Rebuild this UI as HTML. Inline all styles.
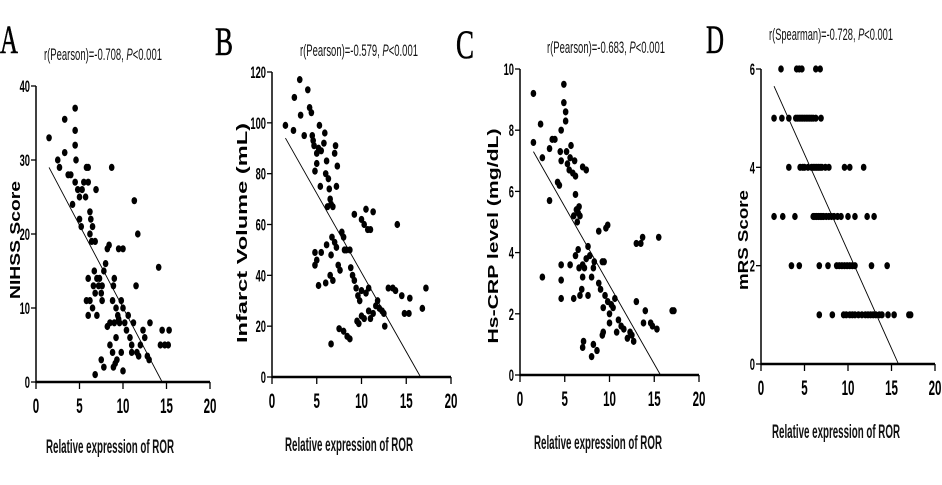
<!DOCTYPE html>
<html><head><meta charset="utf-8"><style>
html,body{margin:0;padding:0;background:#fff;}
svg{display:block;font-family:"Liberation Sans",sans-serif;}
</style></head><body>
<svg id="fig" width="942" height="485" viewBox="0 0 942 485" xmlns="http://www.w3.org/2000/svg"></svg>
<script>
// Panel A: NIHSS
const aX=[1.5,2.5,2.7,3.3,3.3,3.7,4.0,4.2,4.5,4.5,4.5,4.6,4.5,4.8,5,5,5.2,5.3,5.5,5.7,5.8,6,6,6.2,6.3,6.2,6.4,6.5,6.8,6.9,5.8,6,6,6.2,6.5,6.7,6.8,7,7,7.2,7.5,7.6,7.8,8,8.2,8.4,8.7,8.8,8.9,9.0,8.5,8.5,8.8,9,9.2,9.2,9.4,9.5,9.6,9.8,10,10,10.2,10.4,10.6,10.8,11,11,11.2,11.3,11.5,11.7,11.6,11.8,12,12.3,12.5,12.8,13,13.1,14.1,14.3,14.5,14.8,15.3,15.2,7.5,7.8,6.8,8.9,9.1,9.3,9.8,10,8.2,9.5,7.3,7.6,6.6];
const aY=[33,30,29,35.5,31,28,28,24,37,34,32,30,27,26,25,22,21,26,27,25,29,29,27,23,22,20,19,21,19,26,11,14,9,11,10,15,12,14,9,13,12,11,15,16,18,18.5,29,11,13,14,8,5,4,8,6,10,9,18,8,11,10,18,8,7,9,6,5,4,8,24.5,13,20,4,3.5,5,7,6,3.5,3,8,15.5,5,7,5,7,5,3,2,1,2,2.5,3,4,1.5,7.5,8.5,14,13,13];
const aFit=[[1.5,29],[14.5,0]];
// Panel B: infarct volume
const bX=[1.5,2.4,2.5,3.1,3.2,3.6,4,4.2,4.4,4.5,4.6,4.7,4.8,5,5,5.2,5.3,5.5,5.8,5.9,6,6.1,6.3,6.4,6.5,6.2,6.6,6.8,7,7.1,7.2,7.3,5.4,4.8,4.8,5,5.2,5.5,6,6.1,6.5,6.8,6.6,6.7,7,7.2,7.4,7.6,7.8,8,8.1,8.3,8.7,8.8,9,9.2,9.2,9.4,9.6,9.8,10,10,10.3,10.5,10.7,11,11.3,10.5,10.8,9.5,9.7,10,10.3,10.8,11,11.3,11.6,11.8,12,12.3,12.5,12.6,13,13.5,13.8,14,14.5,14.8,15.3,15.4,16.8,17.2,6.6,7.5,8,8.4,8.7];
const bY=[99,97,110,117,103,95,113,106,104,95,93,91,81,88,84,90,99,89,92,96,80,85,78,74,70,67,68,67,88,91,75,83,75,49,44,46,36,49,37,52,40,38,48,55,53,51,44,42,57,55,50,50,50,43,40,38,64,35,32,30,34,62,60,66,58,58,65,33,35,22,21,24,23,26,23,25,28,30,27,26,25,20,35,35,34,60,32,25,25,31,27,35,13,19,18,16,15];
const bFit=[[1.5,94],[16.6,0]];
// Panel C: hs-CRP
const cX=[1.5,1.5,2.3,2.5,2.5,3.3,3.3,3.6,3.9,4.2,4.4,4.5,4.6,4.6,4.6,4.6,4.6,4.9,4.9,5.1,5.1,5.2,5.3,5.5,5.6,5.7,5.9,6.0,6.1,6.2,6.2,6.3,6.4,6.5,6.6,6.7,7.0,7.4,5.6,6,6.2,6.5,6.6,6.7,6.9,7,7.0,7.2,7.4,7.6,7.6,7.8,8,8.2,8.3,8.8,8.8,9,9.2,9.4,9.3,9.5,9.6,9.8,9.8,10,10,10.2,10.4,10.6,10.8,11,11.3,11.6,12,12.3,12.5,12.7,13,13,13.5,13.7,13.8,14,14.6,14.8,15.3,15.5,17,17.2,7,7.1,8,8.2,8.6,9.2,9.3];
const cY=[9.2,7.6,8.2,7.1,3.2,7.4,5.7,7.7,7.7,6.3,6.2,7.3,8,7,3.6,3.1,2.5,9.5,8.9,8.6,8.3,7.3,6.9,6.7,7.1,7.5,6.6,5.2,7,6.5,5.9,5.4,5,5.3,5.5,5.2,6.8,6.7,3.6,2.5,3.9,4.1,3.5,2.6,2.8,3.2,3.6,3.5,3.8,4.2,2.6,3.9,3.2,3.5,3.7,4.7,3,2.8,3.7,3.7,2.2,2.6,4.8,4.9,2.4,2,1.7,2.3,2.2,2.5,1.4,1.8,1.6,1.5,1.2,1.4,1.3,1.1,2.4,4.3,4.3,4.5,1.7,2.1,1.7,1.6,1.5,4.5,2.1,2.1,0.9,1.1,0.6,1,0.8,1.3,1.4];
const cFit=[[1.5,7.3],[15.7,0]];
// Panel D: mRS
const dX=[2.3,4.1,4.4,4.7,6.3,6.8, 1.5,2.4,3.2,4.0,4.2,4.4,4.6,4.8,5.0,5.2,5.4,5.6,5.8,6.0,6.3,6.9, 3.2,4.5,4.8,5.0,5.4,5.8,6.0,6.2,6.4,6.6,6.8,7.0,7.4,7.8,9.6,10.2,11.8, 1.5,2.5,3.9,6.0,6.2,6.4,6.6,6.8,7.0,7.2,7.5,7.8,8.1,8.4,8.8,9.2,10.0,10.8,12.2,13.0, 3.5,4.4,6.7,7.7,8.7,9.0,9.3,9.6,9.9,10.2,10.5,10.8,12.7,14.5, 6.7,8.2,9.5,9.8,10.2,10.5,10.8,11.2,11.6,12.0,12.3,12.6,12.9,13.2,13.6,13.9,14.6,15.3,17.0,17.2];
const dY=[6,6,6,6,6,6, 5,5,5,5,5,5,5,5,5,5,5,5,5,5,5,5, 4,4,4,4,4,4,4,4,4,4,4,4,4,4,4,4,4, 3,3,3,3,3,3,3,3,3,3,3,3,3,3,3,3,3,3,3,3, 2,2,2,2,2,2,2,2,2,2,2,2,2,2, 1,1,1,1,1,1,1,1,1,1,1,1,1,1,1,1,1,1,1,1];
const dFit=[[1.5,5.65],[15.8,0]];
const xTicks=[0,5,10,15,20];
const aYTicks=[0,10,20,30,40];
const bYTicks=[0,20,40,60,80,100,120];
const cYTicks=[0,2,4,6,8,10];
const dYTicks=[0,2,4,6];

const NS="http://www.w3.org/2000/svg";
const svg=document.getElementById('fig');
function mk(tag,attrs,parent){const e=document.createElementNS(NS,tag);for(const k in attrs)e.setAttribute(k,attrs[k]);(parent||svg).appendChild(e);return e;}

const panels=[
 {id:'a',L:'A',lx:0,ly:53,x0:36,x1:210,y0:382,y1:86,ymax:40,yt:aYTicks,xs:aX,ys:aY,fit:aFit,title:'r(Pearson)=-0.708, ',tx:44,ty:60,tw:118,yl:'NIHSS Score',ylx:15,yly:240,ylw:118,xlx:110,xly:453},
 {id:'b',L:'B',lx:215,ly:55,x0:272,x1:451,y0:377,y1:72,ymax:120,yt:bYTicks,xs:bX,ys:bY,fit:bFit,title:'r(Pearson)=-0.579, ',tx:300,ty:56,tw:118,yl:'Infarct Volume (mL)',ylx:242,yly:233,ylw:220,xlx:349,xly:451},
 {id:'c',L:'C',lx:456,ly:58,x0:520,x1:699,y0:375,y1:69,ymax:10,yt:cYTicks,xs:cX,ys:cY,fit:cFit,title:'r(Pearson)=-0.683, ',tx:547,ty:53,tw:118,yl:'Hs-CRP level (mg/dL)',ylx:493,yly:236,ylw:215,xlx:598,xly:449},
 {id:'d',L:'D',lx:706,ly:53,x0:761,x1:935,y0:364,y1:69,ymax:6,yt:dYTicks,xs:dX,ys:dY,fit:dFit,title:'r(Spearman)=-0.728, ',tx:769,ty:40,tw:124,yl:'mRS Score',ylx:743,yly:240,ylw:100,xlx:836,xly:438}
];

panels.forEach(p=>{
 const g=mk('g',{});
 
 
 const sx=v=>p.x0+(p.x1-p.x0)*v/20;
 const sy=v=>p.y0-(p.y0-p.y1)*v/p.ymax;
 const letter=mk('text',{x:p.lx,y:p.ly,'font-family':'Liberation Serif, serif','font-size':40,textLength:18,lengthAdjust:'spacingAndGlyphs',stroke:'#000','stroke-width':0.6},g);
 letter.textContent=p.L;
 
 
 const t=mk('text',{x:p.tx,y:p.ty,'font-size':17,textLength:p.tw,lengthAdjust:'spacingAndGlyphs',fill:'#111'},g);
 
 
 t.appendChild(document.createTextNode(p.title));
 const it=mk('tspan',{'font-style':'italic'},t);it.textContent='P';
 t.appendChild(document.createTextNode('<0.001'));
 const xa=mk('line',{x1:p.x0,y1:p.y0,x2:p.x1,y2:p.y0,stroke:'#000','stroke-width':2.5},g);
 
 
 const ya=mk('line',{x1:p.x0,y1:p.y0+1,x2:p.x0,y2:p.y1,stroke:'#000','stroke-width':1.5},g);
 
 
 xTicks.forEach(v=>{
  mk('line',{x1:sx(v),y1:p.y0,x2:sx(v),y2:p.y0+7,stroke:'#000','stroke-width':1.3},g);
  const tl=mk('text',{x:sx(v),y:p.y0+31,'font-size':21,'font-weight':'bold','text-anchor':'middle',transform:`translate(${sx(v)},0) scale(0.55,1) translate(${-sx(v)},0)`},g);
  tl.textContent=v;
  
  
 });
 p.yt.forEach(v=>{
  mk('line',{x1:p.x0-5,y1:sy(v),x2:p.x0,y2:sy(v),stroke:'#000','stroke-width':1.3},g);
  const tl=mk('text',{x:p.x0-6,y:sy(v)+6,'font-size':17,'font-weight':'bold','text-anchor':'end',transform:`translate(${p.x0-6},0) scale(0.55,1) translate(${-(p.x0-6)},0)`},g);
  tl.textContent=v;
  
  
 });
 const yl=mk('text',{x:p.ylx,y:p.yly,'font-size':15,'font-weight':'bold','text-anchor':'middle',textLength:p.ylw,lengthAdjust:'spacingAndGlyphs',transform:`rotate(-90 ${p.ylx} ${p.yly})`,dy:5},g);
 yl.textContent=p.yl;
 
 
 const xl=mk('text',{x:p.xlx,y:p.xly,'font-size':19,'text-anchor':'middle',textLength:128,lengthAdjust:'spacingAndGlyphs','font-weight':'bold','fill':'#111'},g);
 xl.textContent='Relative expression of ROR';
 
 
 const fl=mk('line',{x1:sx(p.fit[0][0]),y1:sy(p.fit[0][1]),x2:sx(p.fit[1][0]),y2:sy(p.fit[1][1]),stroke:'#000','stroke-width':0.9},g);
 
 
 p.xs.forEach((xv,i)=>{
  const c=mk('ellipse',{cx:sx(xv),cy:sy(p.ys[i]),rx:2.8,ry:3.6,fill:'#000'},g);
  
  
 });
});
</script>
</body></html>
